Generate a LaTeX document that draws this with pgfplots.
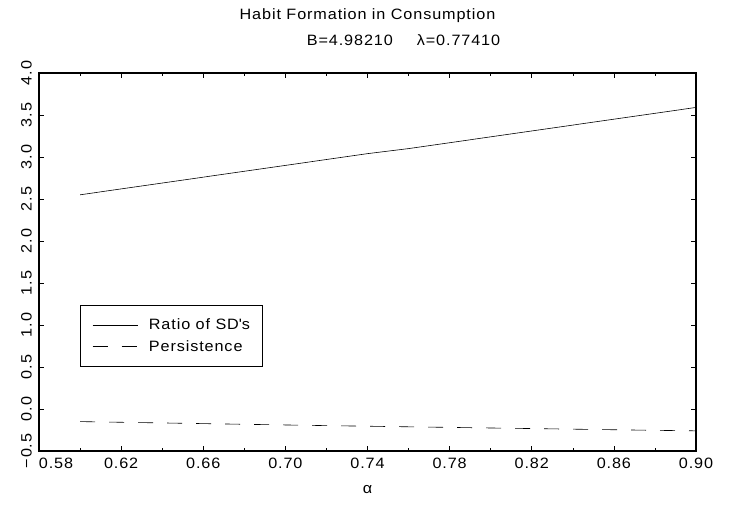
\documentclass[border=0pt]{standalone}
\usepackage{fontspec}
\setmainfont{Liberation Sans}[FakeStretch=1.08, LetterSpace=6]
\usepackage{pgfplots}
\pgfplotsset{compat=1.18}

% Simulated moments as a function of the habit parameter alpha
\pgfplotstableread{
alpha  ratio  persist
0.60   2.55   -0.150
0.62   2.62   -0.158
0.64   2.69   -0.166
0.66   2.76   -0.174
0.68   2.83   -0.182
0.70   2.90   -0.190
0.72   2.97   -0.198
0.74   3.04   -0.205
0.76   3.10   -0.212
0.78   3.17   -0.219
0.80   3.24   -0.226
0.82   3.31   -0.233
0.84   3.38   -0.240
0.86   3.45   -0.247
0.88   3.52   -0.254
0.90   3.59   -0.260
}\moments

\begin{document}
\begin{tikzpicture}
\path[use as bounding box] (-39bp,-59bp) rectangle (694bp,451bp);
\begin{axis}[
  at={(0,0)}, anchor=south west,
  scale only axis, width=657bp, height=378bp,
  xmin=0.58, xmax=0.90, ymin=-0.5, ymax=4.0,
  clip=false,
  font=\fontsize{15bp}{17bp}\selectfont,
  axis line style={line width=1.5bp},
  every tick/.style={black, line width=0.6bp},
  tick align=inside,
  major tick length=5bp, minor tick length=3bp,
  xtick={0.58,0.62,0.66,0.70,0.74,0.78,0.82,0.86,0.90},
  xticklabels={\hspace*{34bp}0.58,0.62,0.66,0.70,0.74,0.78,0.82,0.86,0.90},
  minor xtick={0.60,0.64,0.68,0.72,0.76,0.80,0.84,0.88},
  ytick={-0.5,0,0.5,1,1.5,2,2.5,3,3.5,4},
  yticklabels={−0.5,0.0,0.5,1.0,1.5,2.0,2.5,3.0,3.5,4.0},
  xticklabel style={anchor=north, inner sep=0pt, yshift=-7bp},
  yticklabel style={rotate=90, anchor=south, inner xsep=0pt, inner ysep=7bp},
  legend style={at={(0.0624,0.222)}, anchor=south west, draw=black,
    line width=0.6bp, inner xsep=12bp, inner ysep=14bp,
    row sep=9bp, column sep=11bp,
    nodes={inner sep=0pt, anchor=west},
    font=\fontsize{15bp}{17bp}\selectfont},
  legend cell align=left,
  legend image code/.code={\draw[#1] (0bp,0bp) -- (45bp,0bp);},
]
\addplot[black, line width=0.6bp] table[x=alpha, y=ratio] {\moments};
\addlegendentry{Ratio of SD\textquotesingle s}
\addplot[black, line width=0.6bp, dash pattern=on 15bp off 14bp] table[x=alpha, y=persist] {\moments};
\addlegendentry{Persistence}

\node[font=\fontsize{15bp}{17bp}\selectfont] at (rel axis cs:0.5,1) [yshift=57bp] {Habit Formation in Consumption};
\node[font=\fontsize{15bp}{17bp}\selectfont] at (rel axis cs:0.5,1) [yshift=33bp, xshift=36bp] {B=4.98210\hspace{1.6em}λ=0.77410};
\node[font=\fontsize{15bp}{17bp}\selectfont] at (rel axis cs:0.5,0) [yshift=-39bp] {α};
\end{axis}
\end{tikzpicture}
\end{document}
